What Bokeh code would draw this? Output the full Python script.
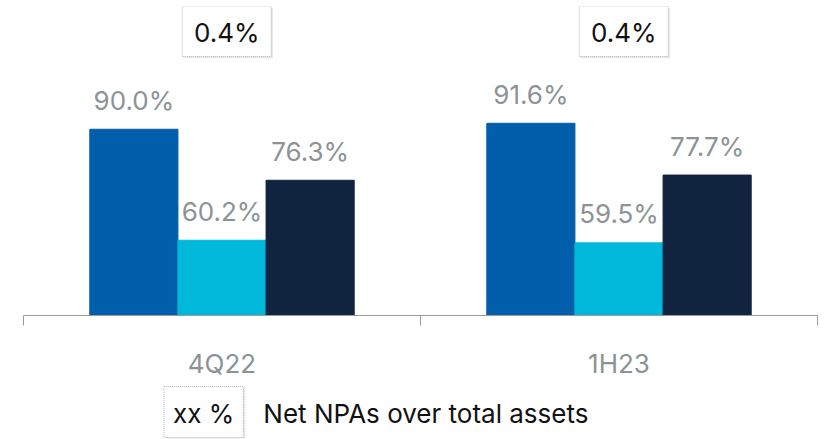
from bokeh.plotting import figure
from bokeh.models import Range1d, LinearAxis, FixedTicker, ColumnDataSource
from bokeh.transform import dodge
from bokeh.layouts import column
from bokeh.core.properties import value
from bokeh.embed import file_html
from bokeh.resources import INLINE

# ---- data ----
periods = ["4Q22", "1H23"]
series_a = [90.0, 91.6]
series_b = [60.2, 59.5]
series_c = [76.3, 77.7]
net_npa = [0.4, 0.4]
legend_sample = "xx %"
legend_text = "Net NPAs over total assets"

colors = ["#005EAB", "#00B8D9", "#10233F"]
FONT = "Inter"
GREY = "#8C9396"

n = len(periods)
centers = [i + 0.5 for i in range(n)]

y0 = 40.0
px_per_unit = 3.725
top_border = 6
frame_h = 309
y_top = y0 + frame_h / px_per_unit

p = figure(x_range=Range1d(0, n), y_range=Range1d(y0, y_top),
           frame_width=794, frame_height=frame_h,
           min_border_left=23, min_border_right=14, min_border_top=top_border, min_border_bottom=65,
           x_axis_location=None, y_axis_location=None,
           toolbar_location=None, output_backend="svg")
p.outline_line_color = None
p.grid.grid_line_color = None

edges = list(range(n + 1))
tick_axis = LinearAxis(ticker=FixedTicker(ticks=edges),
                       major_tick_out=10, major_tick_in=0, minor_tick_line_color=None,
                       axis_line_color="#9A9A9A", major_tick_line_color="#9A9A9A",
                       major_label_text_font_size="1px", major_label_text_color=None,
                       major_label_standoff=0,
                       major_label_overrides={e: "" for e in edges})
p.add_layout(tick_axis, "below")
cat_axis = LinearAxis(ticker=FixedTicker(ticks=centers), axis_line_color=None,
                      major_tick_line_color=None, minor_tick_line_color=None,
                      major_tick_out=0, major_tick_in=0, major_label_standoff=22,
                      major_label_overrides={c: lbl for c, lbl in zip(centers, periods)},
                      major_label_text_font=FONT, major_label_text_font_size="26px",
                      major_label_text_color=GREY)
p.add_layout(cat_axis, "below")

src = ColumnDataSource(dict(
    xc=centers, a=series_a, b=series_b, c=series_c,
    a_lbl=[f"{v:.1f}%" for v in series_a],
    b_lbl=[f"{v:.1f}%" for v in series_b],
    c_lbl=[f"{v:.1f}%" for v in series_c],
    npa=[f"{v:.1f}%" for v in net_npa],
))

bw = 0.222
for key, off, col in zip(["a", "b", "c"], [-bw, 0.0, bw], colors):
    xd = dodge("xc", off)
    p.vbar(x=xd, top=key, bottom=y0, width=bw, fill_color=col, line_color=col, source=src)
    p.text(x=xd, y=key, text=key + "_lbl", source=src, text_align="center",
           text_baseline="alphabetic", y_offset=-29, text_font=value(FONT),
           text_font_size="26px", text_color=GREY)

box_y = y_top - (31 - top_border) / px_per_unit
bx = dodge("xc", 0.012)
p.rect(x=dodge("xc", 0.016), y=box_y - 0.5, width=89, height=50,
       width_units="screen", height_units="screen", fill_color="#E6E6E6", line_color=None, source=src)
p.rect(x=bx, y=box_y, width=89, height=50, width_units="screen", height_units="screen",
       fill_color="white", line_color="#B5B5B5", line_dash="1 1", line_width=1, source=src)
p.text(x=bx, y=box_y, text="npa", source=src, text_align="center", text_baseline="alphabetic",
       y_offset=1, text_font=value(FONT), text_font_size="26px", text_color="#111111")

# ---- legend strip ----
lf = figure(width=831, height=59, x_range=Range1d(0, 831), y_range=Range1d(0, 59),
            x_axis_location=None, y_axis_location=None, min_border=0,
            toolbar_location=None, output_backend="svg")
lf.outline_line_color = None
lf.grid.grid_line_color = None
lf.rect(x=[190.5], y=[27.5], width=[83], height=[51], fill_color="#E6E6E6", line_color=None)
lf.rect(x=[188.5], y=[28.5], width=[83], height=[51], fill_color="white",
        line_color="#B5B5B5", line_dash="1 1")
lf.text(x=[188.5], y=[27], text=[legend_sample], text_align="center", text_baseline="alphabetic",
        text_font=value(FONT), text_font_size="26px", text_color="#111111")
lf.text(x=[251], y=[27], text=[legend_text], text_align="left", text_baseline="alphabetic",
        text_font=value(FONT), text_font_size="26px", text_color="#111111")

layout = column(p, lf, spacing=0)
open("out.html", "w").write(file_html(layout, INLINE))
